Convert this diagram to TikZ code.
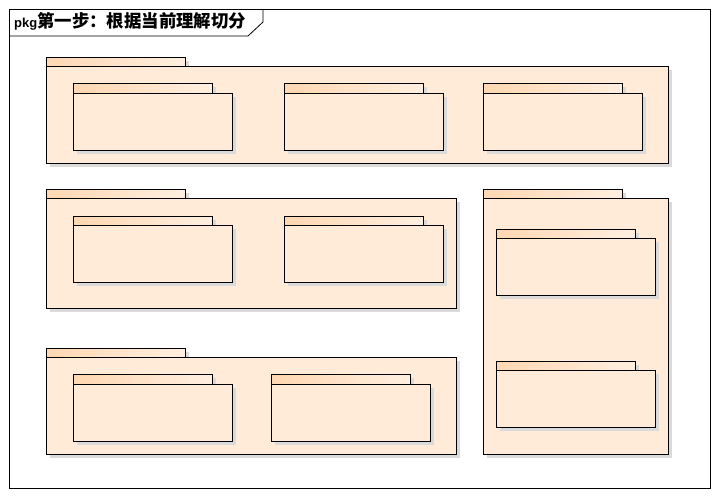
\documentclass[tikz,border=0pt]{standalone}
\usepackage{fontspec}
\setsansfont{Liberation Sans}
\newfontfamily\cjk{Noto Sans CJK SC}
\usepackage{tikz}
\usetikzlibrary{calc}

\definecolor{pkgfill}{HTML}{FFEBD7}
\definecolor{tableft}{HTML}{FFD7B2}
\definecolor{tabright}{HTML}{FFEFE0}
\definecolor{shadowgray}{HTML}{DADADA}

\tikzset{
  pkgbody/.style={draw=black, fill=pkgfill, line width=1pt},
  pkgtab/.style={draw=black, left color=tableft, right color=tabright, line width=1pt},
  pkgshadow/.style={fill=shadowgray},
  framebox/.style={draw=black, line width=0.8pt}
}

% tab left x, tab top y, tab right x, body top y, body right x, body bottom y
\newcommand\umlpkg[6]{%
  \fill[pkgshadow] (#1+4,#4+4) rectangle (#5+4,#6+4);
  \fill[pkgshadow] (#3,#2+4) rectangle (#3+4,#4);
  \shadedraw[pkgtab] (#1,#2) rectangle (#3,#4);
  \filldraw[pkgbody] (#1,#4) rectangle (#5,#6);
}

\begin{document}
\begin{tikzpicture}[x=1pt,y=-1pt]
  \useasboundingbox (0,0) rectangle (718,496);
  \fill[white] (0,0) rectangle (718,496);

  % frame and its heading
  \draw[framebox] (9,9) rectangle (710,488);
  \draw[framebox] (9,36) -- (248,36) -- (263,22) -- (263,9);
  \node[anchor=base west, inner sep=0pt] (title) at (14,27)
    {\sffamily\bfseries\fontsize{13}{13}\selectfont pkg\cjk\fontsize{17.4}{17.4}\selectfont 第一步：根据当前理解切分};

  % outer packages
  \umlpkg{46}{57}{185}{66}{668}{163}
  \umlpkg{46}{189}{185}{198}{456}{308}
  \umlpkg{46}{348}{185}{357}{456}{454}
  \umlpkg{483}{189}{622}{198}{668}{454}

  % inner packages, first row
  \foreach \x in {73,284,483}
    {\umlpkg{\x}{83}{\x+139}{93}{\x+159}{150}}
  % second row
  \foreach \x in {73,284}
    {\umlpkg{\x}{216}{\x+139}{225}{\x+159}{282}}
  % third row
  \foreach \x in {73,271}
    {\umlpkg{\x}{374}{\x+139}{384}{\x+159}{441}}
  % right column
  \foreach \y in {229,361}
    {\umlpkg{496}{\y}{635}{\y+9}{655}{\y+66}}
\end{tikzpicture}
\end{document}
